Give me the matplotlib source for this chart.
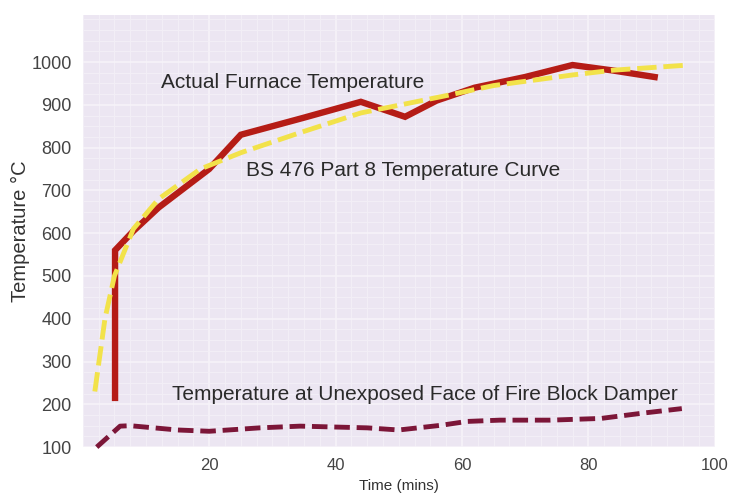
import matplotlib.pyplot as plt
import numpy as np

# Actual furnace temperature (solid red)
furnace_t = [5.1, 5.1, 8, 12, 20, 25, 35, 44, 51, 56, 62, 70, 77.5, 84, 90.5]
furnace_T = [215, 560, 605, 660, 750, 830, 870, 907, 872, 910, 940, 965, 993, 980, 965]

# BS 476 Part 8 standard curve (yellow dashed)
bs_t = [1.9, 3.5, 5, 8, 12, 18.6, 25, 34.4, 44, 48, 56.7, 65, 77.6, 84, 95.9]
bs_T = [230, 400, 500, 610, 680, 750, 788, 835, 881, 893, 919, 945, 970, 981, 993]

# Unexposed face of damper (maroon dashed)
face_t = [2.2, 5.9, 7.5, 15, 20, 28, 34.4, 45, 50, 56.7, 60.8, 66, 74, 82, 88.4, 94.8]
face_T = [100, 149, 150, 140, 137, 145, 149, 145, 140, 151, 160, 163, 163, 167, 179, 190]

FONT = "Liberation Sans"

fig = plt.figure(figsize=(7.33, 4.99), dpi=100)
ax = fig.add_axes([0.113, 0.104, 0.862, 0.866])
ax.set_facecolor("#ece6f2")
for s in ax.spines.values():
    s.set_visible(False)

# faint graph-paper look
ax.set_xticks(np.arange(0, 101, 2.5), minor=True)
ax.set_yticks(np.arange(100, 1111, 25), minor=True)
ax.grid(which="minor", color="#f3eff7", lw=0.7)
ax.grid(which="major", color="#f6f3f9", lw=1.2)
ax.set_axisbelow(True)

ax.plot(furnace_t, furnace_T, color="#b51c16", lw=4.6, solid_joinstyle="miter")
ax.plot(bs_t, bs_T, color="#f2e24a", lw=3.5, ls=(0, (4, 1.4)))
ax.plot(face_t, face_T, color="#7c1638", lw=3.5, ls=(0, (3.2, 1.4)), clip_on=False)

txt = dict(fontsize=15, color="#2a2a2a", family=FONT, va="center")
ax.text(12.4, 953, "Actual Furnace Temperature", **txt)
ax.text(25.9, 747, "BS 476 Part 8 Temperature Curve", **txt)
ax.text(14.1, 223, "Temperature at Unexposed Face of Fire Block Damper", **txt)

ax.set_xlim(0, 100)
ax.set_ylim(100, 1110)
ax.set_xticks([20, 40, 60, 80, 100])
ax.set_yticks(range(100, 1001, 100))
ax.tick_params(which="both", length=0)
ax.tick_params(axis="y", labelsize=13, labelcolor="#444444", pad=8)
ax.tick_params(axis="x", labelsize=12, labelcolor="#444444", pad=8)
for lab in ax.get_xticklabels() + ax.get_yticklabels():
    lab.set_family(FONT)
ax.set_xlabel("Time (mins)", fontsize=11, color="#333333", family=FONT, labelpad=4)
ax.set_ylabel("Temperature \u00b0C", fontsize=14.5, color="#333333", family=FONT, labelpad=1)

fig.savefig("out.png", dpi=100)
